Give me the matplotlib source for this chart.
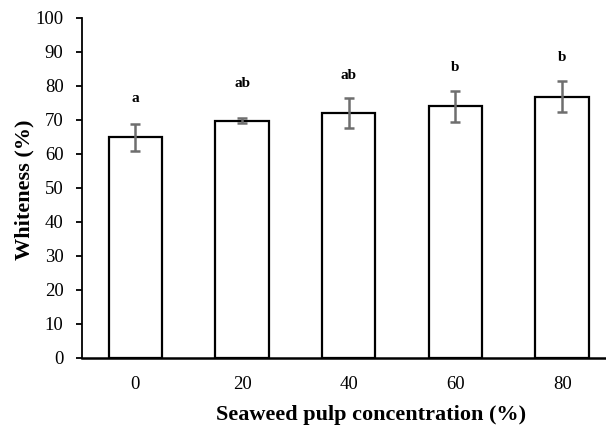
import matplotlib.pyplot as plt
import numpy as np

categories = ['0', '20', '40', '60', '80']
whiteness = [64.9, 69.8, 72.0, 74.0, 76.9]
errors = [4.0, 0.7, 4.5, 4.6, 4.7]
letters = ['a', 'ab', 'ab', 'b', 'b']
letter_y = [76.2, 80.6, 83.2, 85.4, 88.3]

plt.rcParams['font.family'] = ['Liberation Serif', 'DejaVu Serif']

fig = plt.figure(figsize=(6.06, 4.28), dpi=100)
ax = fig.add_axes([0.1353, 0.1636, 0.8804, 0.7944])

x = np.arange(len(categories))
ax.bar(x, whiteness, width=0.5, color='white', edgecolor='black', linewidth=1.6, zorder=2)
ax.errorbar(x, whiteness, yerr=errors, fmt='none', ecolor='#6e6e6e',
            elinewidth=1.8, capsize=3.4, capthick=1.8, zorder=3)

for xi, ly, lab in zip(x, letter_y, letters):
    ax.text(xi, ly, lab, ha='center', va='center', fontsize=11, fontweight='bold')

ax.set_xlim(-0.5, len(categories) - 0.5)
ax.set_ylim(0, 100)
ax.set_yticks(np.arange(0, 101, 10))
ax.set_xticks(x)
ax.set_xticklabels(categories)

ax.spines['top'].set_visible(False)
ax.spines['right'].set_visible(False)
ax.spines['left'].set_linewidth(1.3)
ax.spines['bottom'].set_linewidth(1.8)
ax.tick_params(axis='y', length=4.3, width=1.3, labelsize=13.5, pad=9)
ax.tick_params(axis='x', length=0, labelsize=13.5, pad=13)

ax.set_ylabel('Whiteness (%)', fontsize=16, fontweight='bold')
ax.set_xlabel('Seaweed pulp concentration (%)', fontsize=16, fontweight='bold')
ax.yaxis.set_label_coords(-0.089, 0.494)
ax.xaxis.set_label_coords(0.541, -0.138)

fig.savefig('out.png', dpi=100)
